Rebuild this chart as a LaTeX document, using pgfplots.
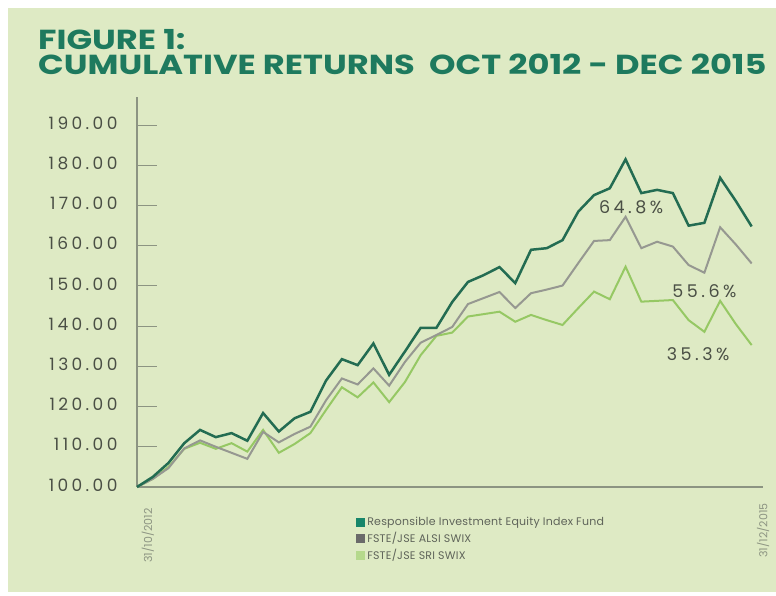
\documentclass[border=0pt]{standalone}
\usepackage{pgfplots}
\pgfplotsset{compat=1.18}
\usepackage{pgfplotstable}
\usepackage{fontspec}
\setmainfont{Poppins}
\newfontfamily\tickfont[LetterSpace=20]{Poppins}
\newfontfamily\titlefont[FakeStretch=1.225]{Poppins}
\newfontfamily\legfont[LetterSpace=2]{Poppins}

\definecolor{bgc}{RGB}{222,234,196}
\definecolor{titlec}{RGB}{30,122,94}
\definecolor{fundc}{RGB}{35,108,82}
\definecolor{alsic}{RGB}{150,152,145}
\definecolor{sric}{RGB}{150,200,100}
\definecolor{axisc}{RGB}{140,148,130}
\definecolor{labc}{RGB}{74,79,69}
\definecolor{legc}{RGB}{95,100,90}

% month index, fund, ALSI, SRI
\pgfplotstableread{
idx fund alsi sri
0 100 100 100
1 102.5 102 102
2 106 104.7 105
3 110.9 109.6 109.5
4 114.2 111.6 111
5 112.4 110 109.5
6 113.4 108.5 110.9
7 111.5 107 108.8
8 118.4 113.7 114.2
9 113.8 111.1 108.5
10 117.1 113.2 110.7
11 118.7 115 113.4
12 126.5 121.6 119.2
13 131.8 127 124.8
14 130.3 125.5 122.3
15 135.7 129.5 126
16 127.9 125.2 121.1
17 133.7 131.1 126.1
18 139.6 135.9 132.8
19 139.6 137.8 137.6
20 146 139.8 138.4
21 151 145.5 142.4
22 152.7 147 143
23 154.7 148.5 143.6
24 150.7 144.5 141.1
25 159 148.2 142.8
26 159.4 149.1 141.5
27 161.4 150.1 140.3
28 168.5 155.7 144.5
29 172.6 161.2 148.6
30 174.3 161.4 146.7
31 181.5 167.2 154.8
32 173.1 159.4 146.1
33 173.9 161 146.3
34 173.1 159.8 146.5
35 165 155.2 141.5
36 165.7 153.3 138.6
37 176.9 164.6 146.3
38 171.1 160.3 140.5
39 164.8 155.6 135.3
}\returns

\begin{document}
\begin{tikzpicture}
\fill[white] (0pt,0pt) rectangle (776pt,596pt);
\fill[bgc] (8pt,4pt) rectangle (776pt,588pt);
\node[anchor=base west, inner sep=0pt, text=titlec, font=\titlefont\fontsize{27.5}{30}\selectfont\bfseries] at (38pt,546pt) {FIGURE 1:};
\node[anchor=base west, inner sep=0pt, text=titlec, font=\titlefont\fontsize{27.5}{30}\selectfont\bfseries] at (38pt,521pt) {CUMULATIVE RETURNS\ \ OCT 2012 - DEC 2015};
\begin{axis}[
    at={(137pt,109pt)}, anchor=south west,
    scale only axis, width=626pt, height=390pt,
    xmin=0, xmax=39.72, ymin=100, ymax=197,
    axis x line=bottom, axis y line=left,
    axis line style={-, draw=axisc, line width=1.2pt},
    xtick=\empty,
    ytick={100,110,...,190},
    yticklabels={100.00,110.00,120.00,130.00,140.00,150.00,160.00,170.00,180.00,190.00},
    tick align=inside, major tick length=20pt,
    tick style={draw=axisc, line width=1pt},
    yticklabel style={font=\tickfont\fontsize{17}{20}\selectfont, text=labc, xshift=-16pt, yshift=2pt},
    clip=false,
    legend style={at={(axis description cs:0.35,-0.078)}, anchor=north west,
        draw=none, fill=none, font=\legfont\fontsize{11}{13}\selectfont, text=legc,
        row sep=5pt, cells={anchor=west}, inner sep=0pt,
        nodes={inner xsep=2pt, inner ysep=0pt}},
    legend image code/.code={\fill[draw=none,#1] (0pt,-4.5pt) rectangle (9pt,4.5pt);},
]
\addplot[sric, line width=2pt, forget plot] table[x=idx, y=sri] {\returns};
\addplot[alsic, line width=2pt, forget plot] table[x=idx, y=alsi] {\returns};
\addplot[fundc, line width=2.5pt, forget plot] table[x=idx, y=fund] {\returns};
\addlegendimage{fill={rgb,255:red,23;green,134;blue,106}}
\addlegendentry{Responsible Investment Equity Index Fund}
\addlegendimage{fill={rgb,255:red,106;green,106;blue,106}}
\addlegendentry{FSTE/JSE ALSI SWIX}
\addlegendimage{fill={rgb,255:red,181;green,217;blue,140}}
\addlegendentry{FSTE/JSE SRI SWIX}
\node[font=\tickfont\fontsize{17.5}{20}\selectfont, text=labc] at (axis cs:31.35,169.7) {64.8\%};
\node[font=\tickfont\fontsize{17.5}{20}\selectfont, text=labc] at (axis cs:36,148.8) {55.6\%};
\node[font=\tickfont\fontsize{17.5}{20}\selectfont, text=labc] at (axis cs:35.6,133.1) {35.3\%};
\node[rotate=90, anchor=east, font=\fontsize{11}{12}\selectfont, text=axisc] at ([xshift=11pt, yshift=-18pt]axis cs:0,100) {31/10/2012};
\node[rotate=90, anchor=east, font=\fontsize{11}{12}\selectfont, text=axisc] at ([yshift=-13pt]axis cs:39.72,100) {31/12/2015};
\end{axis}
\end{tikzpicture}
\end{document}
